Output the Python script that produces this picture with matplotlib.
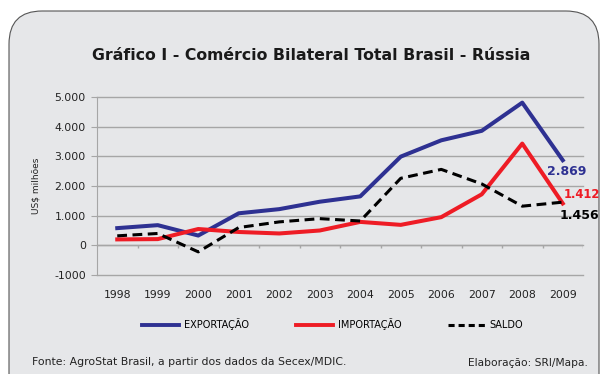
import matplotlib
matplotlib.use("Agg")
import matplotlib.pyplot as plt
from matplotlib.patches import FancyBboxPatch
from matplotlib.lines import Line2D

# Comércio bilateral Brasil - Rússia, US$ milhões
anos = ["1998", "1999", "2000", "2001", "2002", "2003",
        "2004", "2005", "2006", "2007", "2008", "2009"]
exportacao = [580, 680, 330, 1080, 1220, 1470, 1650, 2990, 3540, 3860, 4810, 2869]
importacao = [200, 210, 550, 450, 400, 500, 790, 690, 950, 1720, 3430, 1412]
saldo = [320, 400, -220, 600, 790, 900, 820, 2260, 2560, 2070, 1320, 1456]

azul = "#2e3192"
vermelho = "#ee1c25"
fundo = "#e6e7e9"
grade = "#a6a6a6"

fig = plt.figure(figsize=(6.01, 3.74), dpi=100)
fig.patch.set_facecolor("white")

# caixa arredondada de fundo
caixa = FancyBboxPatch((9 / 601, -0.2), 590 / 601, 1.2 - 11 / 374,
                       boxstyle="round,pad=0,rounding_size=0.055",
                       transform=fig.transFigure, facecolor=fundo,
                       edgecolor="#555555", linewidth=0.8, zorder=-5,
                       mutation_aspect=601 / 374)
fig.patches.append(caixa)

ax = fig.add_axes([97 / 601, 1 - 275 / 374, 486 / 601, 178 / 374])
ax.set_facecolor("none")
ax.set_zorder(2)
x = list(range(len(anos)))

ax.set_xlim(-0.5, len(anos) - 0.5)
ax.set_ylim(-1000, 5000)
ax.set_yticks(range(-1000, 5001, 1000))
ax.set_yticklabels(["-1000", "0", "1.000", "2.000", "3.000", "4.000", "5.000"])
ax.set_xticks(x)
ax.set_xticklabels(anos)
ax.tick_params(axis="x", length=0, pad=11, labelsize=7.8, labelcolor="#222222")
ax.tick_params(axis="y", length=4, color=grade, labelsize=7.8, labelcolor="#222222", pad=4)

for s in ["top", "right", "bottom"]:
    ax.spines[s].set_visible(False)
ax.spines["left"].set_color(grade)
ax.yaxis.grid(True, color=grade, linewidth=1)
for g in ax.get_ygridlines():
    g.set_clip_on(False)
ax.set_axisbelow(True)

# eixo das categorias em y = 0, com marcas entre os anos
ax.axhline(0, color=grade, linewidth=1, zorder=1)
ax.vlines([i + 0.5 for i in x], -100, 0, color=grade, linewidth=1, zorder=1)

ax.plot(x, exportacao, color=azul, linewidth=2.9, zorder=3)
ax.plot(x, importacao, color=vermelho, linewidth=2.9, zorder=3)
ax.plot(x, saldo, color="black", linewidth=2.2, linestyle=(0, (3.2, 1.8)), zorder=4)

ax.set_ylabel("US$ milhões", fontsize=6.5, color="#222222", labelpad=10)

# rótulos dos valores de 2009
ax.annotate(f"{exportacao[-1]:,}".replace(",", "."), (x[-1], exportacao[-1]),
            xytext=(-11, -11), textcoords="offset points", color=azul,
            fontsize=9, fontweight="bold", annotation_clip=False)
ax.annotate(f"{importacao[-1]:,}".replace(",", "."), (x[-1], importacao[-1]),
            xytext=(0.5, 4), textcoords="offset points", color=vermelho,
            fontsize=8.4, fontweight="bold", annotation_clip=False)
ax.annotate(f"{saldo[-1]:,}".replace(",", "."), (x[-1], saldo[-1]),
            xytext=(-2, -12), textcoords="offset points", color="black",
            fontsize=9, fontweight="bold", annotation_clip=False)

fig.text(311 / 601, 1 - 55 / 374, "Gráfico I - Comércio Bilateral Total Brasil - Rússia",
         ha="center", va="center", fontsize=11.3, fontweight="bold", color="#1a1a1a")

handles = [Line2D([], [], color=azul, linewidth=2.8),
           Line2D([], [], color=vermelho, linewidth=2.8),
           Line2D([], [], color="black", linewidth=2.2, linestyle=(0, (2, 1.3)))]
fig.legend(handles, ["EXPORTAÇÃO", "IMPORTAÇÃO", "SALDO"], loc="center",
           bbox_to_anchor=(333 / 601, 1 - 324 / 374), ncol=3, frameon=False,
           fontsize=7, handlelength=3.8, columnspacing=4.8, handletextpad=0.5)

fig.text(32 / 601, 1 - 362 / 374, "Fonte: AgroStat Brasil, a partir dos dados da Secex/MDIC.",
         ha="left", va="center", fontsize=7.8, color="#222222")
fig.text(588 / 601, 1 - 363 / 374, "Elaboração: SRI/Mapa.",
         ha="right", va="center", fontsize=7.7, color="#222222")

fig.savefig("out.png", dpi=100, facecolor="white")
